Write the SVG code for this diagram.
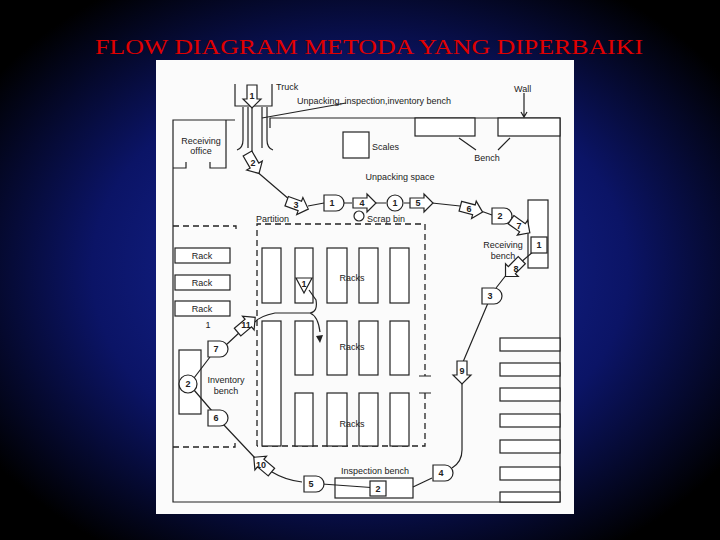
<svg xmlns="http://www.w3.org/2000/svg" width="720" height="540" viewBox="0 0 720 540">
<defs>
<radialGradient id="bg" cx="50%" cy="50%" r="62%">
<stop offset="0" stop-color="#1a2ca8"/><stop offset="0.6" stop-color="#0b1466"/><stop offset="1" stop-color="#000000"/>
</radialGradient>
<g id="ba"><path d="M-11,-5 L3,-5 L3,-9 L12,0 L3,9 L3,5 L-11,5 Z"/></g>
<g id="dd"><path d="M-10,-8 L2,-8 A8,8 0 0 1 2,8 L-10,8 Z"/></g>
</defs>
<style>
.l{fill:none;stroke:#222;stroke-width:1.2}
.f{fill:#fff;stroke:#222;stroke-width:1.2}
.d{fill:none;stroke:#222;stroke-width:1.3;stroke-dasharray:6 4}
text{font-family:"Liberation Sans",Arial,sans-serif;font-size:9px;fill:#222}
.n{font-size:9px;text-anchor:middle;font-weight:bold}
.c{text-anchor:middle}
use{fill:#fff;stroke:#222;stroke-width:1.2}
</style>
<rect width="720" height="540" fill="url(#bg)"/>
<text x="369" y="54" text-anchor="middle" style="font-family:'Liberation Serif',serif;font-size:22px;fill:#e00000" textLength="548" lengthAdjust="spacingAndGlyphs">FLOW DIAGRAM  METODA YANG DIPERBAIKI</text>
<rect x="156" y="60" width="418" height="454" fill="#fbfbfb"/>
<g id="plan">
<path class="l" d="M235,120 H173 V502 H560 V118 H270 V128"/>
<path class="l" d="M235,84 V106 H272 V84"/>
<path class="l" d="M243,107 V140 Q243,148 237,150 M248,107 V148 M262,107 V148 M267,107 V140 Q267,148 273,150"/>
<path class="l" d="M173,168 H186 V162 M210,162 V168 H226 V120"/>
<rect class="f" x="343" y="132" width="26" height="26"/>
<rect class="f" x="415" y="118" width="60" height="18"/>
<rect class="f" x="498" y="118" width="62" height="18"/>
<path class="l" d="M524,93 V117 M521,112 L524,117 L527,112"/>
<path class="l" d="M476,150 L459,138 M498,150 L510,138"/>
<path class="l" d="M346,103 L262,118"/>
<path class="d" d="M257,446 V224 H425 V376 M425,393 V446 H257"/>
<path class="l" d="M419,376 H431 M419,393 H431"/>
<path class="d" d="M173,226 H236 V232 M173,447 H235 V441"/>
<rect class="f" x="175" y="248" width="55" height="15"/>
<rect class="f" x="175" y="275" width="55" height="15"/>
<rect class="f" x="175" y="301" width="55" height="15"/>
<rect class="f" x="262" y="248" width="19" height="55"/><rect class="f" x="295" y="248" width="18" height="55"/><rect class="f" x="327" y="248" width="20" height="55"/><rect class="f" x="359" y="248" width="19" height="55"/><rect class="f" x="390" y="248" width="19" height="55"/>
<rect class="f" x="262" y="321" width="19" height="125"/><rect class="f" x="295" y="321" width="18" height="54"/><rect class="f" x="327" y="321" width="20" height="54"/><rect class="f" x="359" y="321" width="19" height="54"/><rect class="f" x="390" y="321" width="19" height="54"/>
<rect class="f" x="295" y="393" width="18" height="53"/><rect class="f" x="327" y="393" width="20" height="53"/><rect class="f" x="359" y="393" width="19" height="53"/><rect class="f" x="390" y="393" width="19" height="53"/>
<rect class="f" x="500" y="338" width="60" height="13"/><rect class="f" x="500" y="363" width="60" height="13"/><rect class="f" x="500" y="388" width="60" height="13"/><rect class="f" x="500" y="414" width="60" height="13"/><rect class="f" x="500" y="440" width="60" height="13"/><rect class="f" x="500" y="467" width="60" height="13"/><rect class="f" x="500" y="492" width="60" height="10"/>
<rect class="f" x="528" y="200" width="20" height="68"/>
<rect class="f" x="179" y="350" width="22" height="64"/>
<rect class="f" x="335" y="478" width="78" height="20"/>
<circle class="f" cx="359" cy="216" r="5"/>
</g>
<g id="texts">
<text x="276" y="90">Truck</text>
<text x="297" y="104">Unpacking, inspection,inventory bench</text>
<text x="514" y="92">Wall</text>
<text x="201" y="144" class="c">Receiving</text><text x="201" y="154" class="c">office</text>
<text x="372" y="150">Scales</text>
<text x="487" y="161" class="c">Bench</text>
<text x="400" y="180" class="c">Unpacking space</text>
<text x="256" y="222">Partition</text>
<text x="367" y="222">Scrap bin</text>
<text x="503" y="248" class="c">Receiving</text><text x="503" y="259" class="c">bench</text>
<text x="202" y="259" class="c">Rack</text><text x="202" y="286" class="c">Rack</text><text x="202" y="312" class="c">Rack</text>
<text x="208" y="328" class="c">1</text>
<text x="352" y="281" class="c">Racks</text><text x="352" y="350" class="c">Racks</text><text x="352" y="427" class="c">Racks</text>
<text x="226" y="383" class="c">Inventory</text><text x="226" y="394" class="c">bench</text>
<text x="375" y="474" class="c">Inspection bench</text>
</g>
<g id="connectors">
<path class="l" d="M252,107 V157 M255,170 L290,200 M308,206 L324,203 M344,203 L352,203 M376,203 L386,203 M404,203 L410,203 M432,203 L460,206 M481,211 L492,215 M510,218 L513,220 M534,251 L520,263 M507,274 L496,288 M488,303 L463,362 M462,384 V450 Q462,462 452,468 M432,478 L413,487 M378,488 L322,484 M302,482 Q285,480 272,472 M255,458 L223,424 M212,411 L194,390 M194,378 L210,357 M226,345 L240,332 M255,322 Q260,316 275,313 H310 Q318,312 316,300 L309,290 M310,313 Q318,316 320,332"/>
<path d="M316,336 L320,343 L323,335 Z" fill="#222"/>
</g>
<g id="symbols">
<use href="#ba" transform="translate(252,96) rotate(90)"/><text class="n" x="252" y="99">1</text>
<use href="#ba" transform="translate(253,163) rotate(60)"/><text class="n" x="253" y="166">2</text>
<use href="#ba" transform="translate(297,205) rotate(20)"/><text class="n" x="296" y="208">3</text>
<use href="#dd" transform="translate(334,203)"/><text class="n" x="332" y="206">1</text>
<use href="#ba" transform="translate(364,203)"/><text class="n" x="362" y="206">4</text>
<circle class="f" cx="395" cy="203" r="8"/><text class="n" x="395" y="206">1</text>
<use href="#ba" transform="translate(421,203)"/><text class="n" x="418" y="206">5</text>
<use href="#ba" transform="translate(471,209) rotate(15)"/><text class="n" x="469" y="212">6</text>
<use href="#dd" transform="translate(502,216)"/><text class="n" x="500" y="219">2</text>
<use href="#ba" transform="translate(520,226) rotate(35)"/><text class="n" x="519" y="229">7</text>
<rect class="f" x="531" y="237" width="16" height="16"/><text class="n" x="539" y="248">1</text>
<use href="#ba" transform="translate(514,268) rotate(135)"/><text class="n" x="516" y="272">8</text>
<use href="#dd" transform="translate(492,296)"/><text class="n" x="490" y="299">3</text>
<use href="#ba" transform="translate(462,372) rotate(90)"/><text class="n" x="462" y="374">9</text>
<use href="#dd" transform="translate(443,473)"/><text class="n" x="441" y="476">4</text>
<rect class="f" x="370" y="481" width="16" height="15"/><text class="n" x="378" y="492">2</text>
<use href="#dd" transform="translate(314,484)"/><text class="n" x="311" y="487">5</text>
<use href="#ba" transform="translate(263,465) rotate(-140)"/><text class="n" x="261" y="468">10</text>
<use href="#dd" transform="translate(218,418)"/><text class="n" x="216" y="421">6</text>
<circle class="f" cx="188" cy="384" r="9"/><text class="n" x="188" y="387">2</text>
<use href="#dd" transform="translate(218,349)"/><text class="n" x="216" y="352">7</text>
<use href="#ba" transform="translate(246,325) rotate(-40)"/><text class="n" x="246" y="328">11</text>
<path class="f" d="M296,278 H312 L304,293 Z"/><text class="n" x="304" y="287">1</text>
</g>
</svg>
